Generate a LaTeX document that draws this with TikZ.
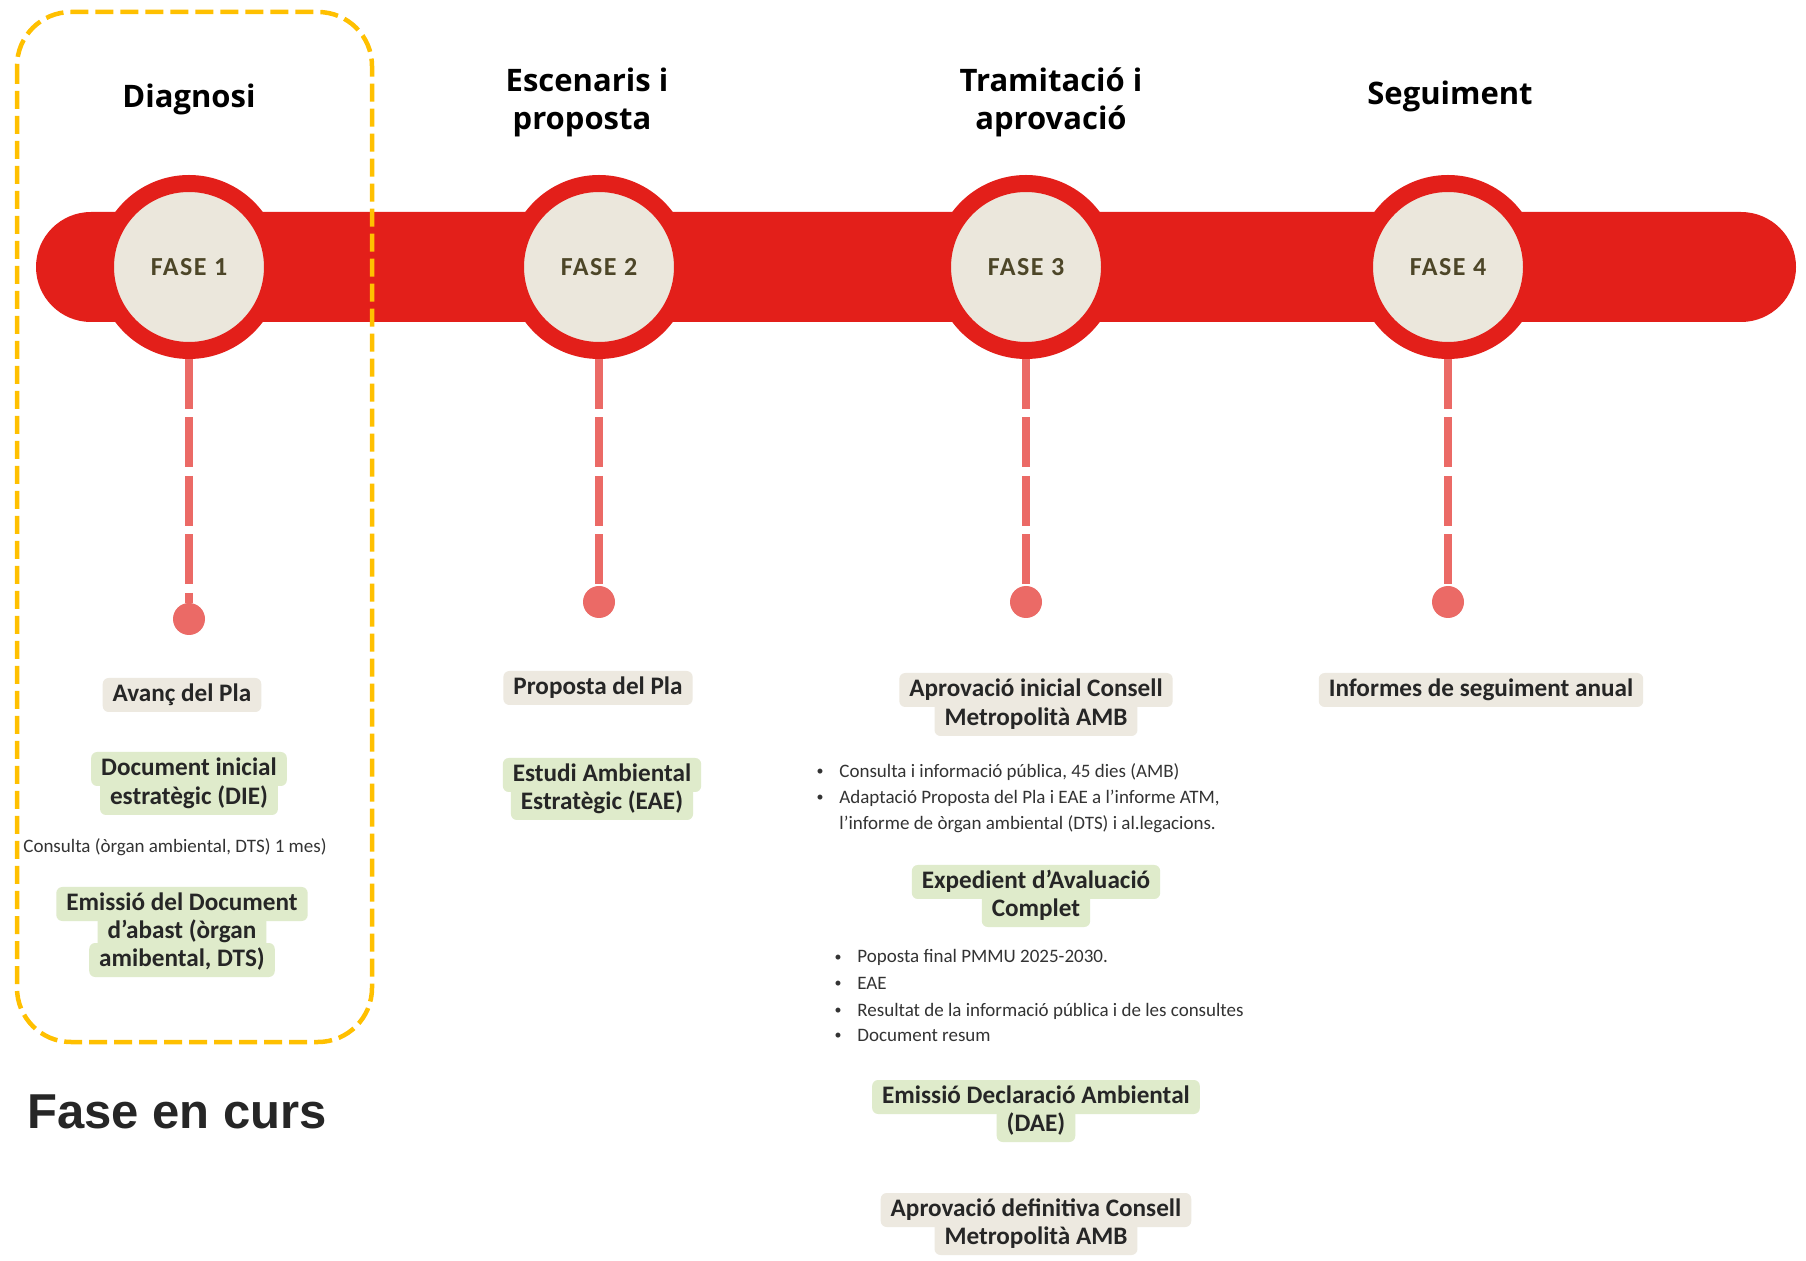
\documentclass[tikz,border=0pt]{standalone}
\usepackage{fontspec}
\setmainfont{Carlito}
\newfontfamily\titlefont{Open Sans}
\newfontfamily\arialfont{Liberation Sans}
\definecolor{barred}{HTML}{E31F1A}
\definecolor{circbeige}{HTML}{EBE7DC}
\definecolor{pinkline}{HTML}{EB6A66}
\definecolor{fasetext}{HTML}{4D4628}
\definecolor{boxbeige}{HTML}{EDE9E0}
\definecolor{boxgreen}{HTML}{DFEBCB}
\definecolor{txt}{HTML}{262626}
\definecolor{smalltxt}{HTML}{333333}
\definecolor{yellowc}{HTML}{FFC000}
\tikzset{
  hl/.style={rounded corners=3pt, inner xsep=5pt, inner ysep=0pt, text height=10pt, text depth=3.5pt, minimum height=17pt, font=\bfseries\fontsize{12.6}{15}\selectfont, text=txt},
  beigebox/.style={hl, fill=boxbeige},
  greenbox/.style={hl, fill=boxgreen},
  phase/.style={circle, fill=circbeige, draw=barred, line width=8.5pt, minimum size=83.5pt, inner sep=0pt, font=\addfontfeature{LetterSpace=6}\bfseries\fontsize{13}{15}\selectfont, text=fasetext},
  dotnode/.style={circle, fill=pinkline, minimum size=16pt, inner sep=0pt},
  conn/.style={draw=pinkline, line width=4pt, dash pattern=on 25pt off 4.25pt},
  title/.style={font=\titlefont\bfseries\fontsize{15.5}{19}\selectfont, anchor=base, inner sep=0pt, text=black},
  small/.style={font=\fontsize{9.5}{12}\selectfont, text=smalltxt, inner sep=0pt},
  bul/.style={font=\fontsize{7}{9}\selectfont, text=smalltxt, inner sep=0pt},
}
\begin{document}
\begin{tikzpicture}[x=0.5pt, y=-0.5pt]
\useasboundingbox (0,0) rectangle (1806,1261);
\fill[white] (0,0) rectangle (1806,1261);

% bar
\fill[barred, rounded corners=27.5pt] (36,212) rectangle (1796,322);

% phase circles
\node[phase] (f1) at (189,267) {FASE 1};
\node[phase] (f2) at (599,267) {FASE 2};
\node[phase] (f3) at (1026,267) {FASE 3};
\node[phase] (f4) at (1448,267) {FASE 4};

% dots
\node[dotnode] (d1) at (189,619) {};
\node[dotnode] (d2) at (599,602) {};
\node[dotnode] (d3) at (1026,602) {};
\node[dotnode] (d4) at (1448,602) {};

\draw[conn] (f1) -- (d1);
\draw[conn] (f2) -- (d2);
\draw[conn] (f3) -- (d3);
\draw[conn] (f4) -- (d4);

% titles
\node[title] (t1) at (189,108) {Diagnosi};
\node[title] (t2a) at (587,92) {Escenaris i};
\node[title] (t2b) at (582,130) {proposta};
\node[title] (t3a) at (1051,92) {Tramitació i};
\node[title] (t3b) at (1051,130) {aprovació};
\node[title] (t4) at (1450,105) {Seguiment};

% column 1
\node[beigebox] (c1a) at (182,695) {Avanç del Pla};
\node[greenbox] (c1b1) at (189,769) {Document inicial};
\node[greenbox] (c1b2) at (189,798) {estratègic (DIE)};
\node[small, anchor=base] (c1n) at (175,853) {Consulta (òrgan ambiental, DTS) 1 mes)};
\node[greenbox] (c1c1) at (182,904) {Emissió del Document};
\node[greenbox] (c1c2) at (182,932) {d’abast (òrgan};
\node[greenbox] (c1c3) at (182,960) {amibental, DTS)};

% column 2
\node[beigebox] (c2a) at (598,688) {Proposta del Pla};
\node[greenbox] (c2b1) at (602,775) {Estudi Ambiental};
\node[greenbox] (c2b2) at (602,803) {Estratègic (EAE)};

% column 3
\node[beigebox] (c3a1) at (1036,690) {Aprovació inicial Consell};
\node[beigebox] (c3a2) at (1036,719) {Metropolità AMB};
\node[bul, anchor=base] (b1) at (820,776) {•};
\node[small, anchor=base west] (b1t) at (839,778) {Consulta i informació pública, 45 dies (AMB)};
\node[bul, anchor=base] (b2) at (820,802) {•};
\node[small, anchor=base west] (b2t) at (839,804) {Adaptació Proposta del Pla i EAE a l’informe ATM,};
\node[small, anchor=base west] (b2u) at (839,830) {l’informe de òrgan ambiental (DTS) i al.legacions.};
\node[greenbox] (c3b1) at (1036,882) {Expedient d’Avaluació};
\node[greenbox] (c3b2) at (1036,910) {Complet};
\node[bul, anchor=base] (b3) at (838,961) {•};
\node[small, anchor=base west] (b3t) at (857,963) {Poposta final PMMU 2025-2030.};
\node[bul, anchor=base] (b4) at (838,987) {•};
\node[small, anchor=base west] (b4t) at (857,989) {EAE};
\node[bul, anchor=base] (b5) at (838,1014) {•};
\node[small, anchor=base west] (b5t) at (857,1016) {Resultat de la informació pública i de les consultes};
\node[bul, anchor=base] (b6) at (838,1039) {•};
\node[small, anchor=base west] (b6t) at (857,1041) {Document resum};
\node[greenbox] (c3c1) at (1036,1097) {Emissió Declaració Ambiental};
\node[greenbox] (c3c2) at (1036,1125) {(DAE)};
\node[beigebox] (c3d1) at (1036,1210) {Aprovació definitiva Consell};
\node[beigebox] (c3d2) at (1036,1238) {Metropolità AMB};

% column 4
\node[beigebox] (c4a) at (1481,690) {Informes de seguiment anual};

% current phase frame
\draw[yellowc, line width=2.25pt, dash pattern=on 9pt off 3.5pt, rounded corners=27pt] (17,12) rectangle (372,1042);
\node[font=\arialfont\bfseries\fontsize{24.5}{28}\selectfont, text=txt, anchor=base west, inner sep=0pt] (fc) at (27,1128) {Fase en curs};
\end{tikzpicture}
\end{document}
